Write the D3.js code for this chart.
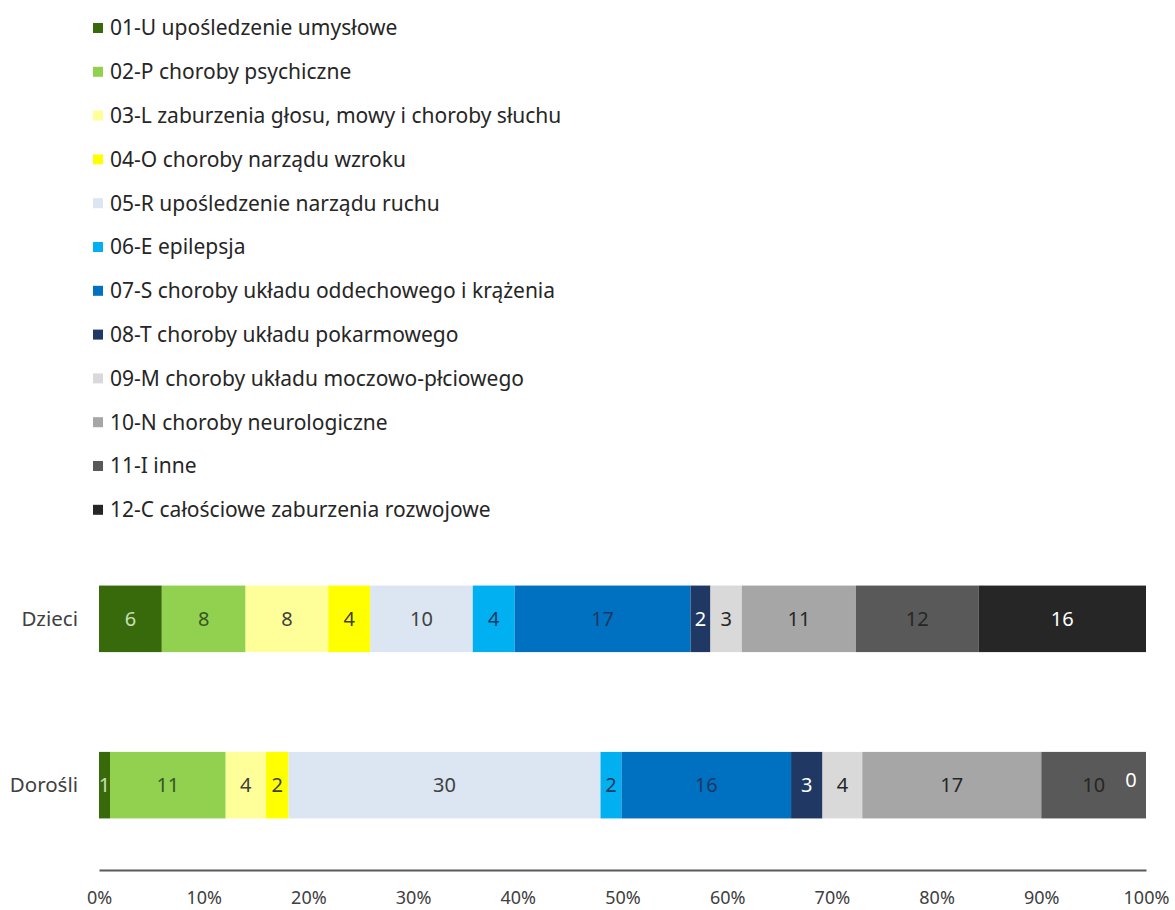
<!DOCTYPE html>
<html lang="pl">
<head>
<meta charset="UTF-8">
<title>Struktura niepełnosprawności</title>
<script src="https://cdn.jsdelivr.net/npm/d3@7/dist/d3.min.js"></script>
<style>
  body { margin: 0; background: #fff; }
  text { font-family: "Noto Sans", "Open Sans", sans-serif; }
</style>
</head>
<body>
<div id="chart"></div>
<script>
// dane
var categories = ['Dzieci', 'Dorośli'];
var series = [
  '01-U upośledzenie umysłowe',
  '02-P choroby psychiczne',
  '03-L zaburzenia głosu, mowy i choroby słuchu',
  '04-O choroby narządu wzroku',
  '05-R upośledzenie narządu ruchu',
  '06-E epilepsja',
  '07-S choroby układu oddechowego i krążenia',
  '08-T choroby układu pokarmowego',
  '09-M choroby układu moczowo-płciowego',
  '10-N choroby neurologiczne',
  '11-I inne',
  '12-C całościowe zaburzenia rozwojowe'
];
// udział w %
var dzieci  = [6.0, 8.0, 7.9, 4.0, 9.8, 4.0, 16.8, 1.9, 3.0, 10.9, 11.7, 16.0];
var dorosli = [1.05, 11.05, 3.85, 2.15, 29.8, 2.0, 16.2, 3.0, 3.8, 17.1, 10.0, 0];
var ticks = [0, 0.1, 0.2, 0.3, 0.4, 0.5, 0.6, 0.7, 0.8, 0.9, 1];

var colors = ['#38690a', '#92d050', '#ffff99', '#ffff00', '#dce6f2', '#00b0f0',
              '#0070c0', '#1f3864', '#d9d9d9', '#a6a6a6', '#595959', '#262626'];
var labelColors = ['#c5e0b4', '#375623', '#404040', '#404040', '#404040', '#1f3864',
                   '#1f3864', '#ffffff', '#262626', '#262626', '#262626', '#ffffff'];

var W = 1175, H = 910;
var svg = d3.select('#chart').append('svg').attr('width', W).attr('height', H);

// tabela dla d3.stack
var rows = categories.map(function(c, i) {
  var src = i === 0 ? dzieci : dorosli;
  var r = { cat: c };
  series.forEach(function(s, j) { r[s] = src[j]; });
  return r;
});
var stacked = d3.stack().keys(series).offset(d3.stackOffsetExpand)(rows);

var x = d3.scaleLinear().domain([0, 1]).range([99, 1146]);
var y = d3.scaleBand().domain(categories).range([534, 870]).paddingInner(0.6).paddingOuter(0.31);

// legenda
var leg = svg.append('g').selectAll('g').data(series).enter().append('g')
  .attr('transform', function(d, i) { return 'translate(93,' + (28 + i * 43.8) + ')'; });
leg.append('rect').attr('x', 0).attr('y', -5).attr('width', 10).attr('height', 10)
  .attr('fill', function(d, i) { return colors[i]; });
leg.append('text').attr('x', 17).attr('dy', '0.35em')
  .attr('font-size', 21).attr('fill', '#262626')
  .text(function(d) { return d; });

// słupki
var layer = svg.append('g').selectAll('g').data(stacked).enter().append('g')
  .attr('fill', function(d, i) { return colors[i]; });
layer.selectAll('rect').data(function(d) { return d; }).enter().append('rect')
  .attr('x', function(d) { return x(d[0]); })
  .attr('y', function(d) { return y(d.data.cat); })
  .attr('width', function(d) { return x(d[1]) - x(d[0]); })
  .attr('height', y.bandwidth());

// etykiety danych
stacked.forEach(function(s, i) {
  svg.append('g').selectAll('text').data(s).enter().append('text')
    .attr('x', function(d) {
      var cx = (x(d[0]) + x(d[1])) / 2;
      return Math.min(cx, x.range()[1] - 15);
    })
    .attr('y', function(d) {
      var cy = y(d.data.cat) + y.bandwidth() / 2;
      return d[1] - d[0] === 0 ? cy - 5 : cy;
    })
    .attr('dy', '0.35em')
    .attr('text-anchor', 'middle')
    .attr('font-size', 20)
    .attr('fill', labelColors[i])
    .text(function(d) { return Math.round(d.data[s.key]); });
});

// kategorie
svg.append('g').selectAll('text').data(categories).enter().append('text')
  .attr('x', 78).attr('y', function(d) { return y(d) + y.bandwidth() / 2; })
  .attr('dy', '0.35em').attr('text-anchor', 'end')
  .attr('font-size', 20.5).attr('fill', '#404040')
  .text(function(d) { return d; });

// oś X
var axis = d3.axisBottom(x).tickValues(ticks).tickSize(0).tickPadding(21)
  .tickFormat(d3.format('.0%'));
var gx = svg.append('g').attr('transform', 'translate(0,870)').call(axis);
gx.select('.domain').attr('stroke', '#595959').attr('stroke-width', 2);
gx.selectAll('text').attr('font-size', 18).attr('fill', '#404040')
  .style('font-family', '"Noto Sans", sans-serif');
</script>
</body>
</html>
